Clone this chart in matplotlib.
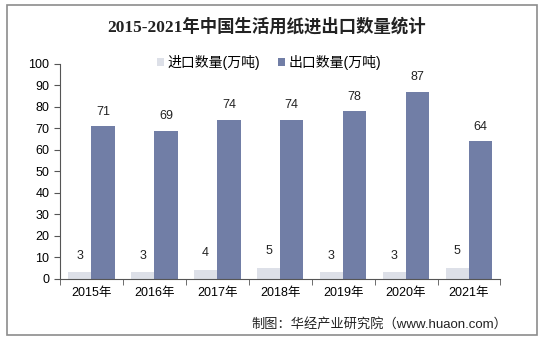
import matplotlib.pyplot as plt
import numpy as np
from matplotlib.patches import Rectangle

plt.rcParams['font.family'] = ['Liberation Sans', 'Noto Sans CJK SC', 'DejaVu Sans']

years = ['2015年', '2016年', '2017年', '2018年', '2019年', '2020年', '2021年']
imports = [3, 3, 4, 5, 3, 3, 5]
exports = [71, 69, 74, 74, 78, 87, 64]

fig = plt.figure(figsize=(5.44, 3.4), dpi=100)
fig.patches.append(Rectangle((0.012, 0.014), 0.976, 0.972, transform=fig.transFigure,
                             fill=False, edgecolor='#8c8c8c', linewidth=1.2))
ax = fig.add_axes([0.11, 0.18, 0.81, 0.632])

x = np.arange(len(years))
w = 0.37
b1 = ax.bar(x - w / 2, imports, w, color='#dde0e8', label='进口数量(万吨)')
b2 = ax.bar(x + w / 2, exports, w, color='#717ea6', label='出口数量(万吨)')

for xi, v in zip(x, imports):
    ax.text(xi - w / 2, v + 5, str(v), ha='center', va='bottom', fontsize=9, color='#222222')
for xi, v in zip(x, exports):
    ax.text(xi + w / 2, v + 4, str(v), ha='center', va='bottom', fontsize=9, color='#222222')

ax.set_xlim(-0.5, len(years) - 0.5)
ax.set_ylim(0, 100)
ax.set_yticks(range(0, 101, 10))
ax.set_xticks(x)
ax.set_xticklabels(years, fontsize=9)
ax.set_xticks(np.arange(-0.5, len(years), 1), minor=True)
ax.tick_params(axis='x', which='major', length=0, pad=6)
ax.tick_params(axis='x', which='minor', length=4, direction='out', color='#555555')
ax.tick_params(axis='y', length=4, direction='out', labelsize=9, color='#555555')
for s in ['top', 'right']:
    ax.spines[s].set_visible(False)
for s in ['left', 'bottom']:
    ax.spines[s].set_color('#555555')

fig.text(0.49, 0.92, '2015-2021年中国生活用纸进出口数量统计', ha='center', va='center',
         fontsize=12.5, fontweight='bold', color='#222222',
         family=['Liberation Serif', 'Noto Sans CJK SC'])
fig.legend(handles=[b1, b2], loc='center', bbox_to_anchor=(0.495, 0.817), ncol=2,
           frameon=False, fontsize=10, handlelength=0.5, handleheight=0.5,
           handletextpad=0.25, columnspacing=1.3)
fig.text(0.932, 0.045, '制图：华经产业研究院（www.huaon.com）', ha='right', va='center',
         fontsize=9.5, color='#222222')

fig.savefig('out.png', dpi=100)
